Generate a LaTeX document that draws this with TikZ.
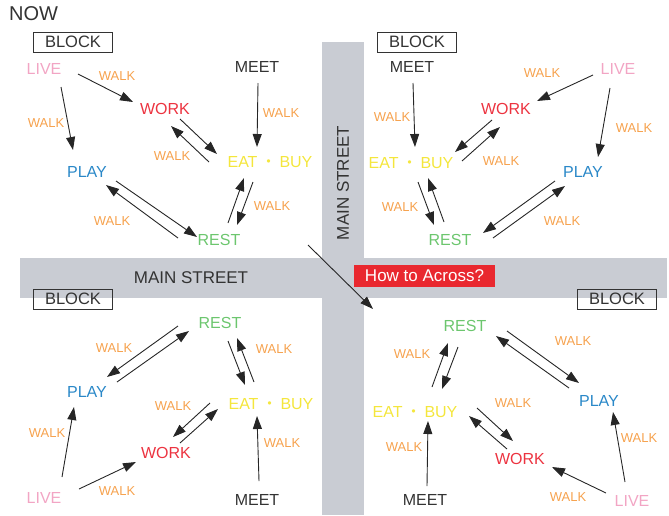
\documentclass[tikz,border=0pt]{standalone}
\usepackage{fontspec}
\setmainfont{Liberation Sans}
\newfontfamily\cjk{Noto Sans CJK JP}
\usetikzlibrary{arrows.meta,calc}
\definecolor{streetgray}{HTML}{C9CCD3}
\definecolor{acrossred}{HTML}{E9282F}
\definecolor{livepink}{HTML}{F2A5C4}
\definecolor{workred}{HTML}{EC3340}
\definecolor{playblue}{HTML}{2A88C8}
\definecolor{eatyellow}{HTML}{F4E63C}
\definecolor{restgreen}{HTML}{6CC66E}
\definecolor{walkorange}{HTML}{F6A24E}
\definecolor{inkgray}{HTML}{333333}
\begin{document}
\begin{tikzpicture}[x=1pt,y=-1pt]
\tikzset{lieu/.style={inner sep=0pt, font=\fontsize{16}{16}\selectfont},
  walk/.style={inner sep=0pt, text=walkorange, font=\fontsize{13}{13}\selectfont},
  block/.style={draw=inkgray, line width=0.9pt, text=inkgray, minimum width=79pt, minimum height=20pt, inner sep=0pt, font=\fontsize{16.5}{16.5}\selectfont},
  arr/.style={-{Triangle[length=13pt,width=9pt]}, line width=0.9pt, color=black!85}}
\useasboundingbox (0,0) rectangle (669,515);
\fill[streetgray] (322,42) rectangle (364,515);
\fill[streetgray] (20,258) rectangle (667,298);
\node[text=inkgray, inner sep=0pt, anchor=west, font=\fontsize{20}{20}\selectfont] (now) at (9,14) {NOW};
\node[text=inkgray, inner sep=0pt, rotate=90, font=\fontsize{17}{17}\selectfont] (mainv) at (343,183) {MAIN STREET};
\node[text=inkgray, inner sep=0pt, font=\fontsize{17}{17}\selectfont] (mainh) at (191,278) {MAIN STREET};
\node[fill=acrossred, text=white, minimum width=141pt, minimum height=22pt, inner sep=0pt, font=\fontsize{17}{17}\selectfont] (across) at (424.5,276) {How to Across?};
\coordinate (crossA) at (308,245);
\coordinate (crossB) at (373,309);
\draw[arr] (crossA) -- (crossB);
\node[block] (blockA) at (73,42) {BLOCK};
\node[block] (blockB) at (417,42) {BLOCK};
\node[block] (blockC) at (73,299) {BLOCK};
\node[block] (blockD) at (617,299) {BLOCK};
% top left block
\node[lieu, text=livepink] (liveA) at (44,69) {LIVE};
\node[lieu, text=inkgray] (meetA) at (257,67) {MEET};
\node[lieu, text=workred] (workA) at (165,109) {WORK};
\node[lieu, text=eatyellow] (eatA) at (270,162) {EAT\hspace{3pt}{\cjk ・}\hspace{3pt}BUY};
\node[lieu, text=playblue] (playA) at (87,172) {PLAY};
\node[lieu, text=restgreen] (restA) at (219,240) {REST};
\node[walk] (wA1) at (117,76) {WALK};
\node[walk] (wA2) at (46,123) {WALK};
\node[walk] (wA3) at (281,113) {WALK};
\node[walk] (wA4) at (172,156) {WALK};
\node[walk] (wA5) at (272,206) {WALK};
\node[walk] (wA6) at (112,221) {WALK};
\draw[arr] ($(liveA)+(34,5)$) -- ($(workA)+(-32,-7)$);
\draw[arr] ($(liveA)+(17,18)$) -- ($(playA)+(-14,-22)$);
\draw[arr] ($(meetA)+(1,16)$) -- ($(eatA)+(-13,-15)$);
\draw[arr] ($(workA)+(15,10)$) -- ($(eatA)+(-53,-8)$);
\draw[arr] ($(eatA)+(-61,0)$) -- ($(workA)+(6,17)$);
\draw[arr] ($(eatA)+(-17,20)$) -- ($(restA)+(18,-15)$);
\draw[arr] ($(restA)+(9,-17)$) -- ($(eatA)+(-26,16)$);
\draw[arr] ($(playA)+(29,9)$) -- ($(restA)+(-22,-3)$);
\draw[arr] ($(restA)+(-41,-2)$) -- ($(playA)+(19,13)$);
% top right block
\node[lieu, text=inkgray] (meetB) at (412,67) {MEET};
\node[lieu, text=livepink] (liveB) at (618,69) {LIVE};
\node[lieu, text=workred] (workB) at (506,109) {WORK};
\node[lieu, text=eatyellow] (eatB) at (411,163) {EAT\hspace{3pt}{\cjk ・}\hspace{3pt}BUY};
\node[lieu, text=playblue] (playB) at (583,172) {PLAY};
\node[lieu, text=restgreen] (restB) at (450,240) {REST};
\node[walk] (wB1) at (542,73) {WALK};
\node[walk] (wB2) at (392,117) {WALK};
\node[walk] (wB3) at (634,128) {WALK};
\node[walk] (wB4) at (501,161) {WALK};
\node[walk] (wB5) at (400,207) {WALK};
\node[walk] (wB6) at (562,221) {WALK};
\draw[arr] ($(meetB)+(1,16)$) -- ($(eatB)+(4,-16)$);
\draw[arr] ($(liveB)+(-25,6)$) -- ($(workB)+(31,-8)$);
\draw[arr] ($(liveB)+(-8,19)$) -- ($(playB)+(15,-15)$);
\draw[arr] ($(workB)+(-14,11)$) -- ($(eatB)+(44,-11)$);
\draw[arr] ($(eatB)+(51,-2)$) -- ($(workB)+(-6,18)$);
\draw[arr] ($(eatB)+(7,19)$) -- ($(restB)+(-16,-15)$);
\draw[arr] ($(restB)+(-6,-18)$) -- ($(eatB)+(17,15)$);
\draw[arr] ($(playB)+(-28,9)$) -- ($(restB)+(33,-7)$);
\draw[arr] ($(restB)+(43,-2)$) -- ($(playB)+(-18,14)$);
% bottom left block
\node[lieu, text=restgreen] (restC) at (220,323) {REST};
\node[lieu, text=playblue] (playC) at (87,392) {PLAY};
\node[lieu, text=eatyellow] (eatC) at (271,404) {EAT\hspace{3pt}{\cjk ・}\hspace{3pt}BUY};
\node[lieu, text=workred] (workC) at (166,453) {WORK};
\node[lieu, text=livepink] (liveC) at (44,498) {LIVE};
\node[lieu, text=inkgray] (meetC) at (257,500) {MEET};
\node[walk] (wC1) at (114,348) {WALK};
\node[walk] (wC2) at (274,349) {WALK};
\node[walk] (wC3) at (173,406) {WALK};
\node[walk] (wC4) at (47,433) {WALK};
\node[walk] (wC5) at (282,443) {WALK};
\node[walk] (wC6) at (117,491) {WALK};
\draw[arr] ($(restC)+(-42,3)$) -- ($(playC)+(20,-15)$);
\draw[arr] ($(playC)+(30,-10)$) -- ($(restC)+(-31,8)$);
\draw[arr] ($(restC)+(8,18)$) -- ($(eatC)+(-26,-19)$);
\draw[arr] ($(eatC)+(-17,-22)$) -- ($(restC)+(17,15)$);
\draw[arr] ($(eatC)+(-61,-1)$) -- ($(workC)+(7,-16)$);
\draw[arr] ($(workC)+(14,-10)$) -- ($(eatC)+(-53,5)$);
\draw[arr] ($(liveC)+(18,-21)$) -- ($(playC)+(-13,15)$);
\draw[arr] ($(liveC)+(35,-9)$) -- ($(workC)+(-30,9)$);
\draw[arr] ($(meetC)+(2,-19)$) -- ($(eatC)+(-14,12)$);
% bottom right block
\node[lieu, text=restgreen] (restD) at (465,326) {REST};
\node[lieu, text=playblue] (playD) at (599,401) {PLAY};
\node[lieu, text=eatyellow] (eatD) at (415,412) {EAT\hspace{3pt}{\cjk ・}\hspace{3pt}BUY};
\node[lieu, text=workred] (workD) at (520,459) {WORK};
\node[lieu, text=inkgray] (meetD) at (425,500) {MEET};
\node[lieu, text=livepink] (liveD) at (632,501) {LIVE};
\node[walk] (wD1) at (573,341) {WALK};
\node[walk] (wD2) at (412,354) {WALK};
\node[walk] (wD3) at (513,403) {WALK};
\node[walk] (wD4) at (404,447) {WALK};
\node[walk] (wD5) at (639,438) {WALK};
\node[walk] (wD6) at (568,497) {WALK};
\draw[arr] ($(restD)+(42,5)$) -- ($(playD)+(-20,-18)$);
\draw[arr] ($(playD)+(-30,-13)$) -- ($(restD)+(31,10)$);
\draw[arr] ($(eatD)+(17,-25)$) -- ($(restD)+(-17,17)$);
\draw[arr] ($(restD)+(-7,21)$) -- ($(eatD)+(27,-23)$);
\draw[arr] ($(eatD)+(62,-4)$) -- ($(workD)+(-7,-18)$);
\draw[arr] ($(workD)+(-13,-10)$) -- ($(eatD)+(54,4)$);
\draw[arr] ($(meetD)+(2,-14)$) -- ($(eatD)+(13,9)$);
\draw[arr] ($(liveD)+(-7,-19)$) -- ($(playD)+(14,11)$);
\draw[arr] ($(liveD)+(-26,-8)$) -- ($(workD)+(32,8)$);
\end{tikzpicture}
\end{document}
